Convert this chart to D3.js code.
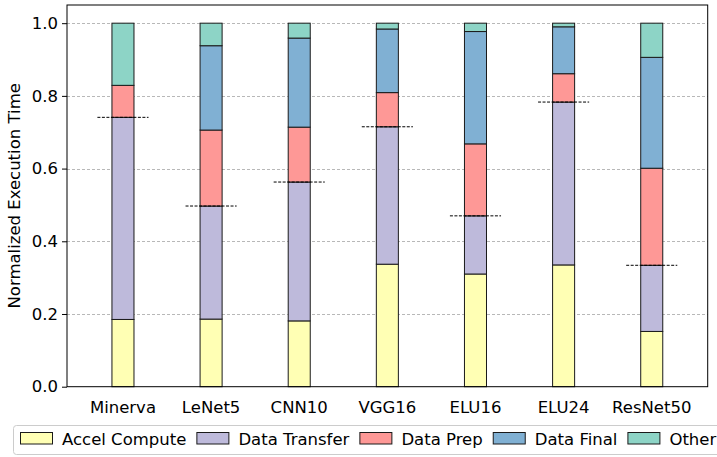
<!DOCTYPE html>
<html>
<head>
<meta charset="utf-8">
<script src="https://cdn.jsdelivr.net/npm/d3@7"></script>
<style>
  html, body { margin: 0; padding: 0; background: #fff; }
  svg { display: block; font-family: "DejaVu Sans", sans-serif; }
</style>
</head>
<body>
<svg id="chart" width="717" height="457"></svg>
<script>
// Workloads on the x axis
const categories = ["Minerva", "LeNet5", "CNN10", "VGG16", "ELU16", "ELU24", "ResNet50"];

// Normalized time share of each phase, per workload
const accelCompute = [0.185, 0.186, 0.181, 0.337, 0.310, 0.335, 0.152];
const dataTransfer = [0.556, 0.311, 0.382, 0.378, 0.160, 0.448, 0.182];
const dataPrep     = [0.088, 0.209, 0.151, 0.094, 0.198, 0.078, 0.267];
const dataFinal    = [0.000, 0.232, 0.245, 0.175, 0.309, 0.129, 0.305];
const other        = [0.171, 0.062, 0.041, 0.016, 0.023, 0.010, 0.094];

// Dashed reference level drawn across each bar
const referenceLevel = [0.741, 0.497, 0.563, 0.715, 0.470, 0.783, 0.334];

const yTicks = [0.0, 0.2, 0.4, 0.6, 0.8, 1.0];

const seriesNames = ["Accel Compute", "Data Transfer", "Data Prep", "Data Final", "Other"];
const seriesValues = [accelCompute, dataTransfer, dataPrep, dataFinal, other];
const seriesColors = ["#ffffb4", "#bebadb", "#fe9896", "#80b0d3", "#8dd4c6"];

const fontSize = 16.5;

const svg = d3.select("#chart");
const plot = { left: 67, right: 707.7, top: 5, bottom: 386.7 };

const x = d3.scaleLinear().domain([-0.635, categories.length - 1 + 0.635]).range([plot.left, plot.right]);
const y = d3.scaleLinear().domain([0, 1.05]).range([plot.bottom, plot.top]);
const barWidth = 0.25;
const refHalf = 0.29;

// Horizontal grid
svg.append("g")
  .selectAll("line")
  .data(yTicks.filter(t => t > 0))
  .join("line")
  .attr("x1", plot.left).attr("x2", plot.right)
  .attr("y1", d => Math.round(y(d)) + 0.5).attr("y2", d => Math.round(y(d)) + 0.5)
  .attr("stroke", "#b0b0b0")
  .attr("stroke-width", 0.9)
  .attr("stroke-dasharray", "3,2");

// Stacked bars
const rows = categories.map((c, i) => {
  const r = { category: c, index: i };
  seriesNames.forEach((s, k) => { r[s] = seriesValues[k][i]; });
  return r;
});
const stacked = d3.stack().keys(seriesNames)(rows);

svg.append("g")
  .selectAll("g")
  .data(stacked)
  .join("g")
  .attr("fill", (d, k) => seriesColors[k])
  .selectAll("rect")
  .data(d => d.filter(seg => seg[1] - seg[0] > 0))
  .join("rect")
  .attr("x", d => x(d.data.index - barWidth / 2))
  .attr("width", d => x(barWidth) - x(0))
  .attr("y", d => y(d[1]))
  .attr("height", d => y(d[0]) - y(d[1]))
  .attr("stroke", "#1a1a1a")
  .attr("stroke-width", 1);

// Dashed reference markers
svg.append("g")
  .selectAll("line")
  .data(referenceLevel)
  .join("line")
  .attr("x1", (d, i) => x(i - refHalf))
  .attr("x2", (d, i) => x(i + refHalf))
  .attr("y1", d => y(d)).attr("y2", d => y(d))
  .attr("stroke", "#000")
  .attr("stroke-width", 1)
  .attr("stroke-dasharray", "3,1.5");

// Frame
svg.append("rect")
  .attr("x", plot.left).attr("y", plot.top)
  .attr("width", plot.right - plot.left).attr("height", plot.bottom - plot.top)
  .attr("fill", "none").attr("stroke", "#000").attr("stroke-width", 1);

// Y axis
const yAxis = svg.append("g")
  .attr("transform", `translate(${plot.left},0)`)
  .call(d3.axisLeft(y).tickValues(yTicks).tickFormat(d3.format(".1f")).tickSize(5).tickPadding(4));
yAxis.select(".domain").remove();
yAxis.selectAll("text").attr("font-size", fontSize).attr("fill", "#000").attr("font-family", "DejaVu Sans");
yAxis.selectAll("line").attr("stroke", "#000");

// X labels
svg.append("g")
  .selectAll("text")
  .data(categories)
  .join("text")
  .attr("x", (d, i) => x(i))
  .attr("y", 413)
  .attr("text-anchor", "middle")
  .attr("font-size", fontSize)
  .text(d => d);

// Y title
svg.append("text")
  .attr("transform", `translate(20,${(plot.top + plot.bottom) / 2}) rotate(-90)`)
  .attr("text-anchor", "middle")
  .attr("font-size", fontSize)
  .text("Normalized Execution Time");

// Legend
const legend = svg.append("g");
legend.append("rect")
  .attr("x", 13.5).attr("y", 425.5)
  .attr("width", 720).attr("height", 29)
  .attr("rx", 3)
  .attr("fill", "#fff")
  .attr("stroke", "#cccccc");

let lx = 20;
seriesNames.forEach((name, k) => {
  legend.append("rect")
    .attr("x", lx + 0.5).attr("y", 432.5)
    .attr("width", 32).attr("height", 11.5)
    .attr("fill", seriesColors[k])
    .attr("stroke", "#1a1a1a").attr("stroke-width", 1);
  const t = legend.append("text")
    .attr("x", lx + 42).attr("y", 445)
    .attr("font-size", fontSize)
    .text(name);
  lx = lx + 42 + t.node().getComputedTextLength() + 10;
});
</script>
</body>
</html>
